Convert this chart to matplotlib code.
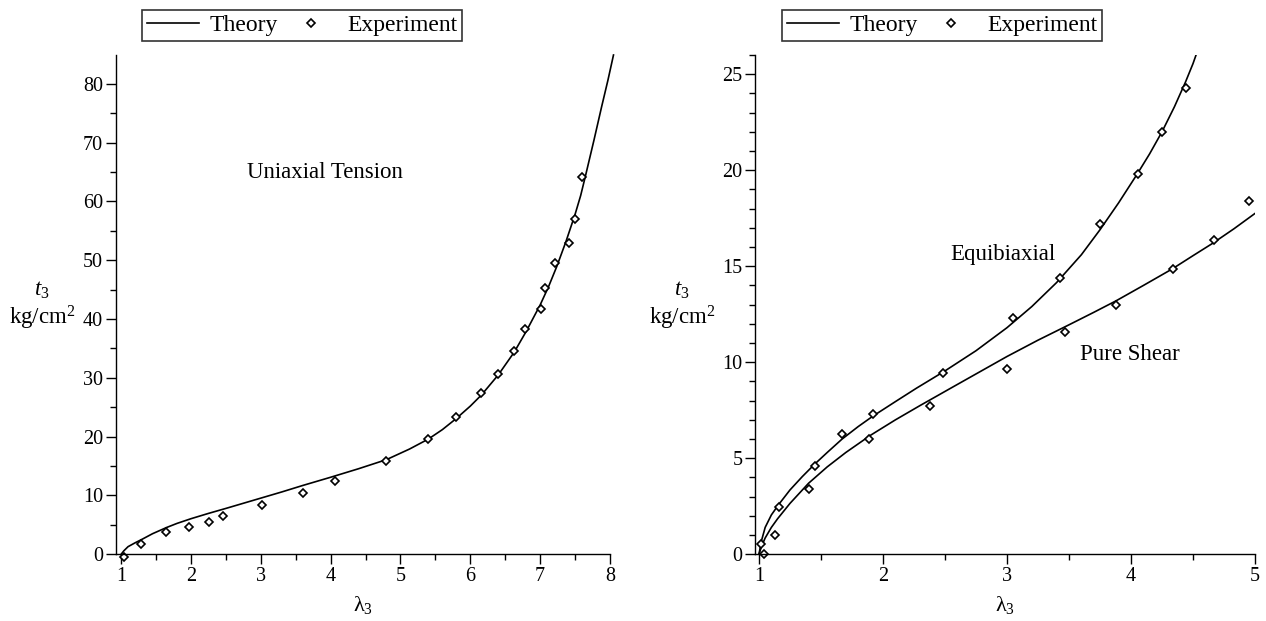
import numpy as np
import matplotlib
matplotlib.use('Agg')
import matplotlib.pyplot as plt
from matplotlib.ticker import MultipleLocator

plt.rcParams['font.family'] = ['Liberation Serif', 'DejaVu Serif']
plt.rcParams['mathtext.fontset'] = 'custom'
plt.rcParams['mathtext.rm'] = 'Liberation Serif'
plt.rcParams['mathtext.it'] = 'Liberation Serif:italic'

# Uniaxial tension - experiment
uni_x = [1.04, 1.29, 1.65, 1.97, 2.26, 2.46, 3.02, 3.61, 4.06, 4.80, 5.39, 5.79,
         6.15, 6.39, 6.62, 6.78, 7.01, 7.07, 7.21, 7.41, 7.50, 7.60]
uni_y = [-0.4, 1.7, 3.85, 4.65, 5.45, 6.5, 8.4, 10.5, 12.4, 15.85, 19.6, 23.4,
         27.4, 30.6, 34.6, 38.3, 41.7, 45.3, 49.6, 53.0, 57.0, 64.2]

# Uniaxial tension - theory
uni_tx = [1.0, 1.04, 1.1, 1.2, 1.3, 1.45, 1.65, 1.8, 2.0, 2.25, 2.5, 2.8, 3.0, 3.3,
          3.6, 4.0, 4.4, 4.8, 5.13, 5.4, 5.6, 5.8, 6.0, 6.16, 6.4, 6.63, 6.8, 7.0,
          7.12, 7.24, 7.37, 7.5, 7.58, 7.65, 7.77, 7.88, 7.97, 8.05]
uni_ty = [0, 0.6, 1.3, 1.95, 2.55, 3.5, 4.55, 5.25, 6.05, 6.95, 7.8, 8.85, 9.55, 10.6,
          11.7, 13.1, 14.55, 16.1, 17.9, 19.6, 21.2, 23.1, 25.2, 27.1, 30.5, 34.4,
          37.9, 42.4, 45.5, 49.0, 53.2, 57.8, 61.0, 64.4, 70.4, 76.1, 80.6, 84.9]

# Equibiaxial - experiment
eq_x = [1.02, 1.16, 1.45, 1.67, 1.92, 2.48, 3.05, 3.43, 3.75, 4.06, 4.25, 4.44]
eq_y = [0.54, 2.48, 4.6, 6.27, 7.32, 9.46, 12.33, 14.37, 17.2, 19.8, 22.0, 24.3]

# Equibiaxial - theory
eq_tx = [1.0, 1.02, 1.05, 1.1, 1.16, 1.25, 1.35, 1.45, 1.55, 1.67, 1.8, 1.92, 2.1,
         2.27, 2.5, 2.75, 3.0, 3.2, 3.4, 3.6, 3.75, 3.9, 4.05, 4.15, 4.25, 4.35,
         4.44, 4.5, 4.53]
eq_ty = [0, 0.7, 1.4, 2.05, 2.6, 3.35, 4.05, 4.7, 5.3, 6.0, 6.65, 7.2, 7.95, 8.65,
         9.55, 10.6, 11.8, 12.9, 14.15, 15.6, 16.9, 18.3, 19.8, 20.85, 22.0, 23.3,
         24.6, 25.55, 26.1]

# Pure shear - experiment
ps_x = [1.04, 1.13, 1.40, 1.885, 2.38, 3.00, 3.47, 3.88, 4.34, 4.67, 4.95]
ps_y = [0.03, 1.0, 3.39, 6.0, 7.74, 9.63, 11.6, 13.0, 14.88, 16.36, 18.4]

# Pure shear - theory
ps_tx = [1.0, 1.02, 1.05, 1.1, 1.15, 1.25, 1.4, 1.55, 1.7, 1.9, 2.1, 2.3, 2.56,
         2.78, 3.0, 3.25, 3.5, 3.7, 3.88, 4.1, 4.33, 4.5, 4.66, 4.83, 5.0]
ps_ty = [0, 0.4, 0.85, 1.4, 1.85, 2.65, 3.7, 4.55, 5.3, 6.2, 7.0, 7.75, 8.7,
         9.5, 10.3, 11.15, 11.95, 12.6, 13.2, 14.0, 14.85, 15.55, 16.2, 16.95, 17.75]

W, H = 1266, 621
fig = plt.figure(figsize=(W / 100, H / 100), dpi=100)


def px_axes(x0, x1, y0, y1):
    return fig.add_axes([x0 / W, 1 - y1 / H, (x1 - x0) / W, (y1 - y0) / H])


def style_axes(ax, xmaj, xmin, ymaj, ymin):
    for s in ['top', 'right']:
        ax.spines[s].set_visible(False)
    for s in ['left', 'bottom']:
        ax.spines[s].set_linewidth(1.0)
    ax.xaxis.set_major_locator(MultipleLocator(xmaj))
    ax.xaxis.set_minor_locator(MultipleLocator(xmin))
    ax.yaxis.set_major_locator(MultipleLocator(ymaj))
    ax.yaxis.set_minor_locator(MultipleLocator(ymin))
    ax.tick_params(which='major', length=7, width=1.0, labelsize=14.5, pad=2)
    ax.tick_params(which='minor', length=4, width=1.0)
    ax.set_xlabel(r'$\mathrm{\lambda}_3$', fontsize=16, labelpad=6)


def add_legend(ax, cx):
    leg = ax.legend(loc='upper center', bbox_to_anchor=(cx / W, 1 - 10 / H),
                    bbox_transform=fig.transFigure, ncol=2, fontsize=17,
                    frameon=True, fancybox=False, edgecolor='black',
                    handlelength=2.2, handletextpad=0.45, columnspacing=0.3,
                    borderpad=0.2, borderaxespad=0, numpoints=1)
    leg.get_frame().set_linewidth(1.2)


# Left panel: uniaxial tension
ax1 = px_axes(115.5, 610, 55, 554.3)
ax1.plot(uni_tx, uni_ty, color='black', lw=1.2, label='Theory', clip_on=False)
ax1.plot(uni_x, uni_y, 'D', ms=4, mfc='white', mec='black', mew=1.2,
         label='Experiment', clip_on=False)
ax1.set_xlim(0.92, 8)
ax1.set_ylim(0, 84.9)
style_axes(ax1, 1, 0.5, 10, 5)
ax1.text(3.92, 65, 'Uniaxial Tension', fontsize=16.5, ha='center', va='center')
add_legend(ax1, 302)

# Right panel: equibiaxial and pure shear
ax2 = px_axes(755, 1255, 55, 554.3)
ax2.plot(eq_tx, eq_ty, color='black', lw=1.2, label='Theory')
ax2.plot(ps_tx, ps_ty, color='black', lw=1.2)
ax2.plot(eq_x, eq_y, 'D', ms=4, mfc='white', mec='black', mew=1.2,
         label='Experiment', clip_on=False)
ax2.plot(ps_x, ps_y, 'D', ms=4, mfc='white', mec='black', mew=1.2, clip_on=False)
ax2.set_xlim(0.968, 5)
ax2.set_ylim(0, 26.0)
style_axes(ax2, 1, 0.5, 5, 1)
ax2.text(2.97, 15.6, 'Equibiaxial', fontsize=16.5, ha='center', va='center')
ax2.text(3.99, 10.43, 'Pure Shear', fontsize=16.5, ha='center', va='center')
add_legend(ax2, 942)

# y labels written horizontally to the left of each axis
for xc in [42, 682]:
    fig.text(xc / W, 1 - 290 / H, r'$t_3$', fontsize=16.5, ha='center', va='center')
    fig.text(xc / W, 1 - 318 / H, r'kg/cm$^2$', fontsize=16.5, ha='center', va='center')

fig.savefig('out.png', dpi=100)
